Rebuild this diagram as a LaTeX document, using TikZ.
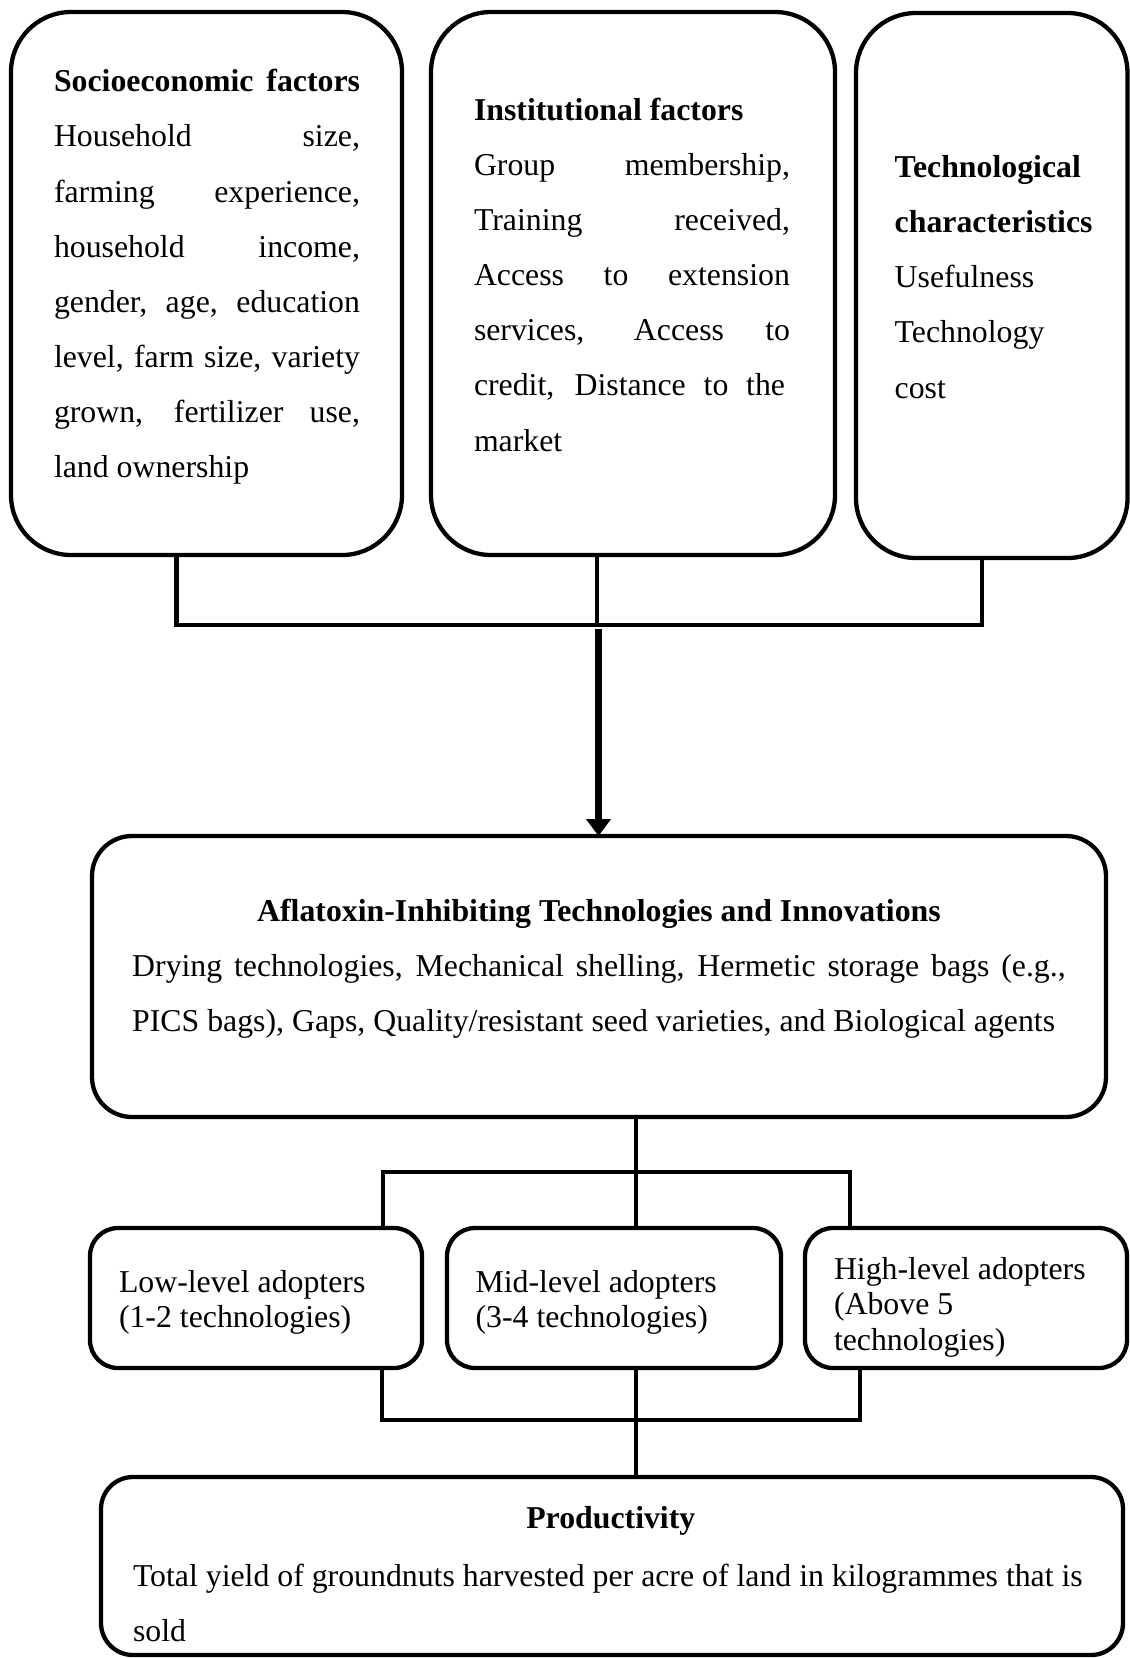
\documentclass[tikz,border=0pt]{standalone}
\usepackage{fontspec}
\setmainfont{Liberation Serif}
\usetikzlibrary{arrows.meta}
\newcommand{\myjust}[2]{\hbox{\makebox[#1][s]{#2}}}
\newcommand{\mynat}[1]{\hbox{#1}}
\begin{document}
\begin{tikzpicture}[x=1pt,y=-1pt,
  box/.style={draw, line width=4.3pt, inner sep=0pt, outer sep=0pt},
  bigr/.style={box, rounded corners=60pt},
  midr/.style={box, rounded corners=40pt},
  smallr/.style={box, rounded corners=28pt},
  prodr/.style={box, rounded corners=32pt},
  conn/.style={line width=4.5pt},
  arr/.style={line width=7pt, -{Triangle[width=24pt,length=17pt]}},
  txt/.style={inner sep=0pt, outer sep=0pt, anchor=base west, font=\fontsize{31.8}{55.1}\selectfont},
  stxt/.style={inner sep=0pt, outer sep=0pt, anchor=base west, font=\fontsize{31.8}{35.8}\selectfont},
  ttl/.style={inner sep=0pt, outer sep=0pt, anchor=base, font=\fontsize{31.8}{55.1}\selectfont\bfseries}]
\useasboundingbox (0,0) rectangle (1130,1658);

% boxes
\node[bigr, minimum width=391pt, minimum height=543pt] (b1) at (206.5,283.5) {};
\node[bigr, minimum width=404pt, minimum height=543pt] (b2) at (633,283.5) {};
\node[bigr, minimum width=271.5pt, minimum height=545pt] (b3) at (991.75,285.5) {};
\node[midr, minimum width=1014pt, minimum height=281pt] (b4) at (599,976.5) {};
\node[smallr, minimum width=332pt, minimum height=140pt] (b5) at (256,1298) {};
\node[smallr, minimum width=334pt, minimum height=140pt] (b6) at (614,1298) {};
\node[smallr, minimum width=322pt, minimum height=140pt] (b7) at (966,1298) {};
\node[prodr, minimum width=1022pt, minimum height=178pt] (b8) at (612,1566) {};

% texts
\node[txt] (t1) at (54,91.8) {\vtop{%
  \myjust{306pt}{\bfseries Socioeconomic factors}
  \myjust{306pt}{Household size,}
  \myjust{306pt}{farming experience,}
  \myjust{306pt}{household income,}
  \myjust{306pt}{gender, age, education}
  \myjust{306pt}{level, farm size, variety}
  \myjust{306pt}{grown, fertilizer use,}
  \mynat{land ownership}}};
\node[txt] (t2) at (474,120.4) {\vtop{%
  \mynat{\bfseries Institutional factors}
  \myjust{316pt}{Group membership,}
  \myjust{316pt}{Training received,}
  \myjust{316pt}{Access to extension}
  \myjust{316pt}{services, Access to}
  \myjust{311pt}{credit, Distance to the}
  \mynat{market}}};
\node[txt] (t3) at (894.7,177.6) {\vtop{%
  \mynat{\bfseries Technological}
  \mynat{\bfseries characteristics}
  \mynat{Usefulness}
  \mynat{Technology}
  \mynat{cost}}};
\node[ttl] (t4h) at (599,921.7) {Aflatoxin-Inhibiting Technologies and Innovations};
\node[txt] (t4) at (132.2,976.7) {\vtop{%
  \myjust{933.5pt}{Drying technologies, Mechanical shelling, Hermetic storage bags (e.g.,}
  \mynat{PICS bags), Gaps, Quality/resistant seed varieties, and Biological agents}}};
\node[stxt] (t5) at (119,1292) {\vtop{%
  \mynat{Low-level adopters}
  \mynat{(1-2 technologies)}}};
\node[stxt] (t6) at (475.6,1292) {\vtop{%
  \mynat{Mid-level adopters}
  \mynat{(3-4 technologies)}}};
\node[stxt] (t7) at (834,1279) {\vtop{%
  \mynat{High-level adopters}
  \mynat{(Above 5}
  \mynat{technologies)}}};
\node[ttl] (t8h) at (610.8,1528.8) {Productivity};
\node[txt] (t8) at (133,1586) {\vtop{%
  \mynat{Total yield of groundnuts harvested per acre of land in kilogrammes that is}
  \mynat{sold}}};

% upper connectors
\coordinate (c1) at (176.6,625);
\coordinate (c2) at (597,625);
\coordinate (c3) at (982,625);
\coordinate (a0) at (598.5,629);
\draw[conn] (c1 |- b1.south) -- (c1) -- (c3) -- (c3 |- b3.south);
\draw[conn] (c2 |- b2.south) -- (c2);
\draw[arr] (a0) -- (a0 |- b4.north);

% middle connectors
\coordinate (d0) at (636,1172);
\coordinate (d1) at (383,1172);
\coordinate (d2) at (850,1172);
\draw[conn] (d0 |- b4.south) -- (d0 |- b6.north);
\draw[conn] (d1 |- b5.north) -- (d1) -- (d2) -- (d2 |- b7.north);

% lower connectors
\coordinate (e0) at (636,1420);
\coordinate (e1) at (382,1420);
\coordinate (e2) at (860,1420);
\draw[conn] (e1 |- b5.south) -- (e1) -- (e2) -- (e2 |- b7.south);
\draw[conn] (e0 |- b6.south) -- (e0 |- b8.north);
\end{tikzpicture}
\end{document}
